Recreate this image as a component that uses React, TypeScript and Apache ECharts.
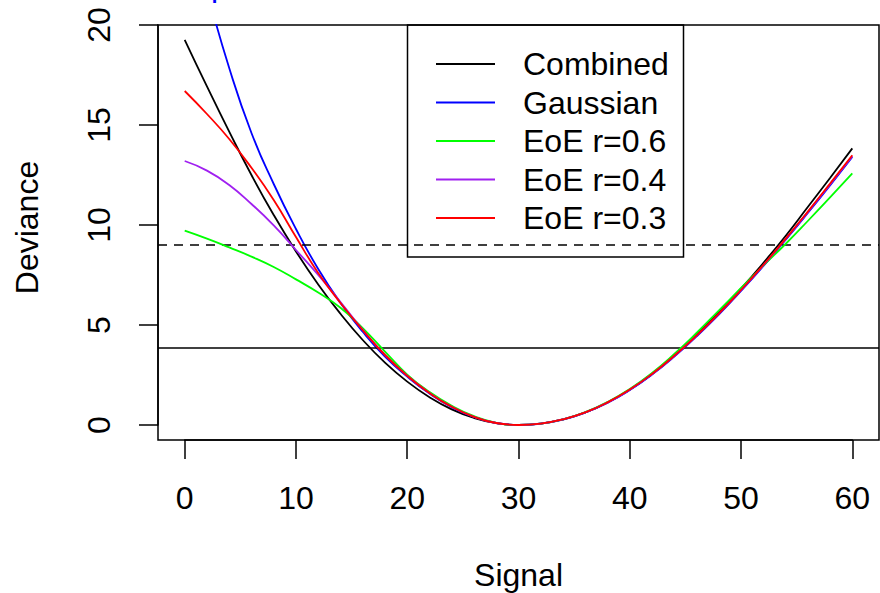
import React, { useEffect, useRef } from "react";
import * as echarts from "echarts";

// Signal values at which the deviance curves were read
const signal = [0, 2, 4, 6, 8, 10, 12, 14, 16, 18, 20, 22, 24, 26, 28, 30, 32, 34, 36, 38, 40, 42, 44, 46, 48, 50, 52, 54, 56, 58, 60];

const combined = [19.26, 16.93, 14.67, 12.5, 10.5, 8.68, 7.03, 5.56, 4.25, 3.12, 2.17, 1.39, 0.78, 0.35, 0.09, 0, 0.07, 0.28, 0.63, 1.12, 1.76, 2.55, 3.47, 4.5, 5.62, 6.82, 8.1, 9.45, 10.9, 12.35, 13.83];
const gaussian = [25.8, 21.7, 17.85, 14.6, 12.05, 9.8, 7.8, 6.1, 4.66, 3.42, 2.42, 1.57, 0.89, 0.4, 0.1, 0, 0.07, 0.27, 0.62, 1.11, 1.75, 2.52, 3.42, 4.43, 5.52, 6.7, 7.94, 9.25, 10.6, 11.98, 13.4];
const eoe06 = [9.72, 9.32, 8.88, 8.42, 7.9, 7.28, 6.62, 5.86, 4.84, 3.67, 2.52, 1.65, 0.96, 0.44, 0.11, 0, 0.07, 0.28, 0.64, 1.15, 1.8, 2.6, 3.55, 4.6, 5.72, 6.85, 7.97, 9.05, 10.2, 11.38, 12.58];
const eoe04 = [13.2, 12.72, 12.0, 11.05, 9.98, 8.75, 7.5, 6.15, 4.76, 3.51, 2.46, 1.6, 0.91, 0.41, 0.1, 0, 0.07, 0.28, 0.63, 1.12, 1.76, 2.54, 3.45, 4.46, 5.56, 6.74, 7.98, 9.29, 10.64, 12.03, 13.44];
const eoe03 = [16.7, 15.55, 14.3, 12.86, 11.25, 9.4, 7.6, 6.1, 4.74, 3.5, 2.46, 1.6, 0.91, 0.41, 0.1, 0, 0.07, 0.28, 0.63, 1.13, 1.77, 2.55, 3.46, 4.47, 5.57, 6.75, 8.0, 9.31, 10.67, 12.07, 13.49];

const seriesNames = ["Combined", "Gaussian", "EoE r=0.6", "EoE r=0.4", "EoE r=0.3"];
const seriesValues = [combined, gaussian, eoe06, eoe04, eoe03];
const seriesColors = ["#000000", "#0000ff", "#00ff00", "#a020f0", "#ff0000"];

// Reference lines
const solidLine = 3.84;
const dashedLine = 9;

const xTitle = "Signal";
const yTitle = "Deviance";
const topFragment = "p";

const FONT = '"Liberation Sans", Arial, Helvetica, sans-serif';
const FS = 32;

export default function App() {
  const ref = useRef<HTMLDivElement>(null);

  useEffect(() => {
    if (!ref.current) return;
    const chart = echarts.init(ref.current, null, { renderer: "svg" });

    const plotLeft = 158;
    const plotTop = 25;
    const plotW = 721;
    const plotH = 415;
    const xMin = -2.4;
    const xMax = 62.4;
    const yMin = -0.75;
    const yMax = 20;
    const pxPerX = plotW / (xMax - xMin);
    const pxPerY = plotH / (yMax - yMin);
    const x0 = plotLeft + (0 - xMin) * pxPerX;
    const y0 = plotTop + (yMax - 0) * pxPerY;

    const lines: any[] = seriesNames.map((name, i) => ({
      type: "line",
      name,
      xAxisIndex: 0,
      yAxisIndex: 0,
      data: signal.map((s, j) => [s, seriesValues[i][j]]),
      showSymbol: false,
      symbol: "none",
      smooth: true,
      clip: true,
      lineStyle: { color: seriesColors[i], width: 1.8 },
      itemStyle: { color: seriesColors[i] },
      z: 3 + i,
    }));

    lines[0].markLine = {
      silent: true,
      symbol: "none",
      label: { show: false },
      data: [
        { yAxis: solidLine, lineStyle: { color: "#000", width: 1.6, type: "solid" } },
        { yAxis: dashedLine, lineStyle: { color: "#000", width: 1.6, type: [9, 7] } },
      ],
    };

    const legendX = 407.5;
    const legendY = 25;
    const legendW = 276;
    const legendH = 232;
    const rowY0 = 64;
    const rowGap = 38.5;

    const graphic: any[] = [
      {
        type: "rect",
        shape: { x: legendX, y: legendY, width: legendW, height: legendH },
        style: { fill: "none", stroke: "#000", lineWidth: 1.5 },
        z: 1,
      },
      ...seriesNames.flatMap((name, i) => [
        {
          type: "line",
          shape: { x1: 436, y1: rowY0 + i * rowGap, x2: 495, y2: rowY0 + i * rowGap },
          style: { stroke: seriesColors[i], lineWidth: 1.8 },
          z: 10,
        },
        {
          type: "text",
          x: 523,
          y: rowY0 + i * rowGap,
          style: { text: name, fill: "#000", font: `${FS}px ${FONT}`, verticalAlign: "middle", align: "left" },
          z: 10,
        },
      ]),
      {
        type: "text",
        x: plotLeft + plotW / 2,
        y: 575,
        style: { text: xTitle, fill: "#000", font: `${FS}px ${FONT}`, align: "center", verticalAlign: "middle" },
      },
      {
        type: "text",
        x: 27,
        y: plotTop + plotH / 2 - 5,
        rotation: Math.PI / 2,
        style: { text: yTitle, fill: "#000", font: `${FS}px ${FONT}`, align: "center", verticalAlign: "middle" },
      },
      {
        type: "text",
        x: 211,
        y: -15,
        style: { text: topFragment, fill: "#0000ff", font: `${FS}px ${FONT}`, align: "left", verticalAlign: "middle" },
      },
    ];

    chart.setOption({
      animation: false,
      backgroundColor: "#ffffff",
      grid: [
        {
          left: plotLeft,
          top: plotTop,
          width: plotW,
          height: plotH,
          show: true,
          borderColor: "#000",
          borderWidth: 1.5,
          backgroundColor: "transparent",
        },
        {
          left: x0,
          top: plotTop,
          width: 60 * pxPerX,
          height: y0 - plotTop,
          show: false,
        },
      ],
      xAxis: [
        { type: "value", gridIndex: 0, min: xMin, max: xMax, show: false },
        {
          type: "value",
          gridIndex: 1,
          min: 0,
          max: 60,
          interval: 10,
          position: "bottom",
          offset: plotTop + plotH - y0,
          axisLine: { show: true, onZero: false, lineStyle: { color: "#000", width: 1.5 } },
          axisTick: { show: true, inside: false, length: 19, lineStyle: { color: "#000", width: 1.5 } },
          axisLabel: { show: true, margin: 42, color: "#000", fontSize: FS, fontFamily: FONT },
          splitLine: { show: false },
        },
      ],
      yAxis: [
        { type: "value", gridIndex: 0, min: yMin, max: yMax, show: false },
        {
          type: "value",
          gridIndex: 1,
          min: 0,
          max: 20,
          interval: 5,
          position: "left",
          offset: x0 - plotLeft,
          axisLine: { show: true, onZero: false, lineStyle: { color: "#000", width: 1.5 } },
          axisTick: { show: true, inside: false, length: 19, lineStyle: { color: "#000", width: 1.5 } },
          axisLabel: { show: true, rotate: 90, margin: 43, color: "#000", fontSize: FS, fontFamily: FONT },
          splitLine: { show: false },
        },
      ],
      series: lines,
      graphic,
    });

    return () => chart.dispose();
  }, []);

  return <div ref={ref} style={{ width: 880, height: 593, position: "absolute", left: 0, top: 0 }} />;
}
